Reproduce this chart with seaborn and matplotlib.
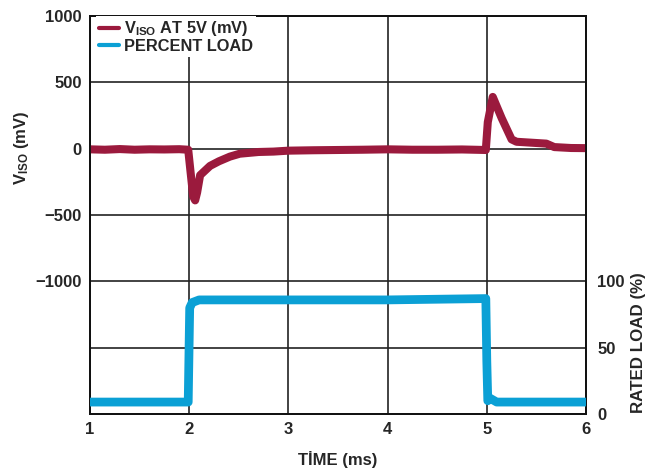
import matplotlib
matplotlib.use("Agg")
import matplotlib.pyplot as plt
import seaborn as sns
import pandas as pd
from matplotlib.lines import Line2D

# ---- data ----
viso_time = [1.00, 1.15, 1.30, 1.45, 1.60, 1.75, 1.90, 1.99, 2.01, 2.04, 2.06,
             2.08, 2.11, 2.16, 2.21, 2.30, 2.41, 2.51, 2.70, 2.85, 3.00, 3.25,
             3.50, 3.75, 4.00, 4.25, 4.50, 4.75, 4.99, 5.01, 5.06, 5.15, 5.25,
             5.30, 5.45, 5.60, 5.68, 5.85, 6.00]
viso_mv = [-5, -8, -3, -8, -5, -6, -4, -8, -150, -360, -390,
           -330, -200, -165, -130, -95, -60, -38, -25, -22, -15, -12,
           -10, -8, -5, -8, -8, -6, -10, 200, 390, 230, 70,
           52, 45, 38, 12, 5, 4]

load_time = [1.00, 1.99, 2.005, 2.03, 2.10, 3.00, 4.00, 4.99, 5.00, 5.01,
             5.03, 5.10, 6.00]
load_pct = [9, 9, 80, 84, 86, 86, 86, 87, 40, 10, 12, 9, 9]

left_ticks = [-1500, -1000, -500, 0, 500, 1000]
left_labels = ["", "\u22121000", "\u2212500", "0", "500", "1000"]
right_ticks = [0, 50, 100]
x_ticks = [1, 2, 3, 4, 5, 6]

RED = "#9B1A3D"
BLUE = "#0BA0D5"

sns.set_style("white")
plt.rcParams["font.family"] = ["Liberation Sans", "DejaVu Sans"]
plt.rcParams["font.weight"] = "bold"
plt.rcParams["mathtext.fontset"] = "custom"
plt.rcParams["mathtext.rm"] = "Liberation Sans:bold"
plt.rcParams["mathtext.bf"] = "Liberation Sans:bold"
plt.rcParams["mathtext.it"] = "Liberation Sans:bold"

fig = plt.figure(figsize=(6.62, 4.68), dpi=100)
ax = fig.add_axes([90 / 662, 54 / 468, 496 / 662, 398 / 468])
ax2 = ax.twinx()

df_v = pd.DataFrame({"t": viso_time, "v": viso_mv})
df_l = pd.DataFrame({"t": load_time, "l": load_pct})

sns.lineplot(data=df_v, x="t", y="v", ax=ax, color=RED, lw=5.8,
             estimator=None, sort=False, zorder=3)
sns.lineplot(data=df_l, x="t", y="l", ax=ax2, color=BLUE, lw=6.3,
             estimator=None, sort=False, zorder=3)

ax.set_xlim(1, 6)
ax.set_ylim(-2000, 1000)
ax2.set_ylim(0, 300)

FS = 12
ax.set_xticks(x_ticks)
ax.set_xticklabels([str(x) for x in x_ticks], fontsize=FS, fontweight="bold")
ax.set_yticks(left_ticks)
ax.set_yticklabels(left_labels, fontsize=FS, fontweight="bold")
ax2.set_yticks(right_ticks)
ax2.set_yticklabels([str(v) for v in right_ticks], fontsize=FS, fontweight="bold")

ax.tick_params(axis="both", length=0, pad=6)
ax2.tick_params(axis="y", length=0, pad=8)

ax.grid(True, color="#222222", lw=1.2, zorder=0)
ax.set_axisbelow(True)

for a in (ax, ax2):
    for s in a.spines.values():
        s.set_color("#111111")
        s.set_linewidth(1.3)

ax.set_xlabel("T\u0130ME (ms)", fontsize=12, fontweight="bold", labelpad=10)
ax.set_ylabel(r"V$_{\mathbf{ISO}}$ (mV)", fontsize=12, fontweight="bold")
ax2.set_ylabel("RATED LOAD (%)", fontsize=12.2, fontweight="bold")
ax.yaxis.set_label_coords(-0.119, 0.668)
ax2.yaxis.set_label_coords(1.09, 0.18)

handles = [Line2D([], [], color=RED, lw=3), Line2D([], [], color=BLUE, lw=3)]
labels = [r"V$_{\mathbf{ISO}}$ AT 5V (mV)", "PERCENT LOAD"]
leg = ax2.legend(handles, labels, loc="upper left", frameon=True, fancybox=False,
                 framealpha=1, edgecolor="white", facecolor="white",
                 bbox_to_anchor=(0.012, 1.0),
                 borderaxespad=0.0, borderpad=0.2, handlelength=1.2,
                 handletextpad=0.3, labelspacing=0.05,
                 prop={"weight": "bold", "size": 11.8})
leg.get_frame().set_linewidth(0)

fig.savefig("out.png", dpi=100)
